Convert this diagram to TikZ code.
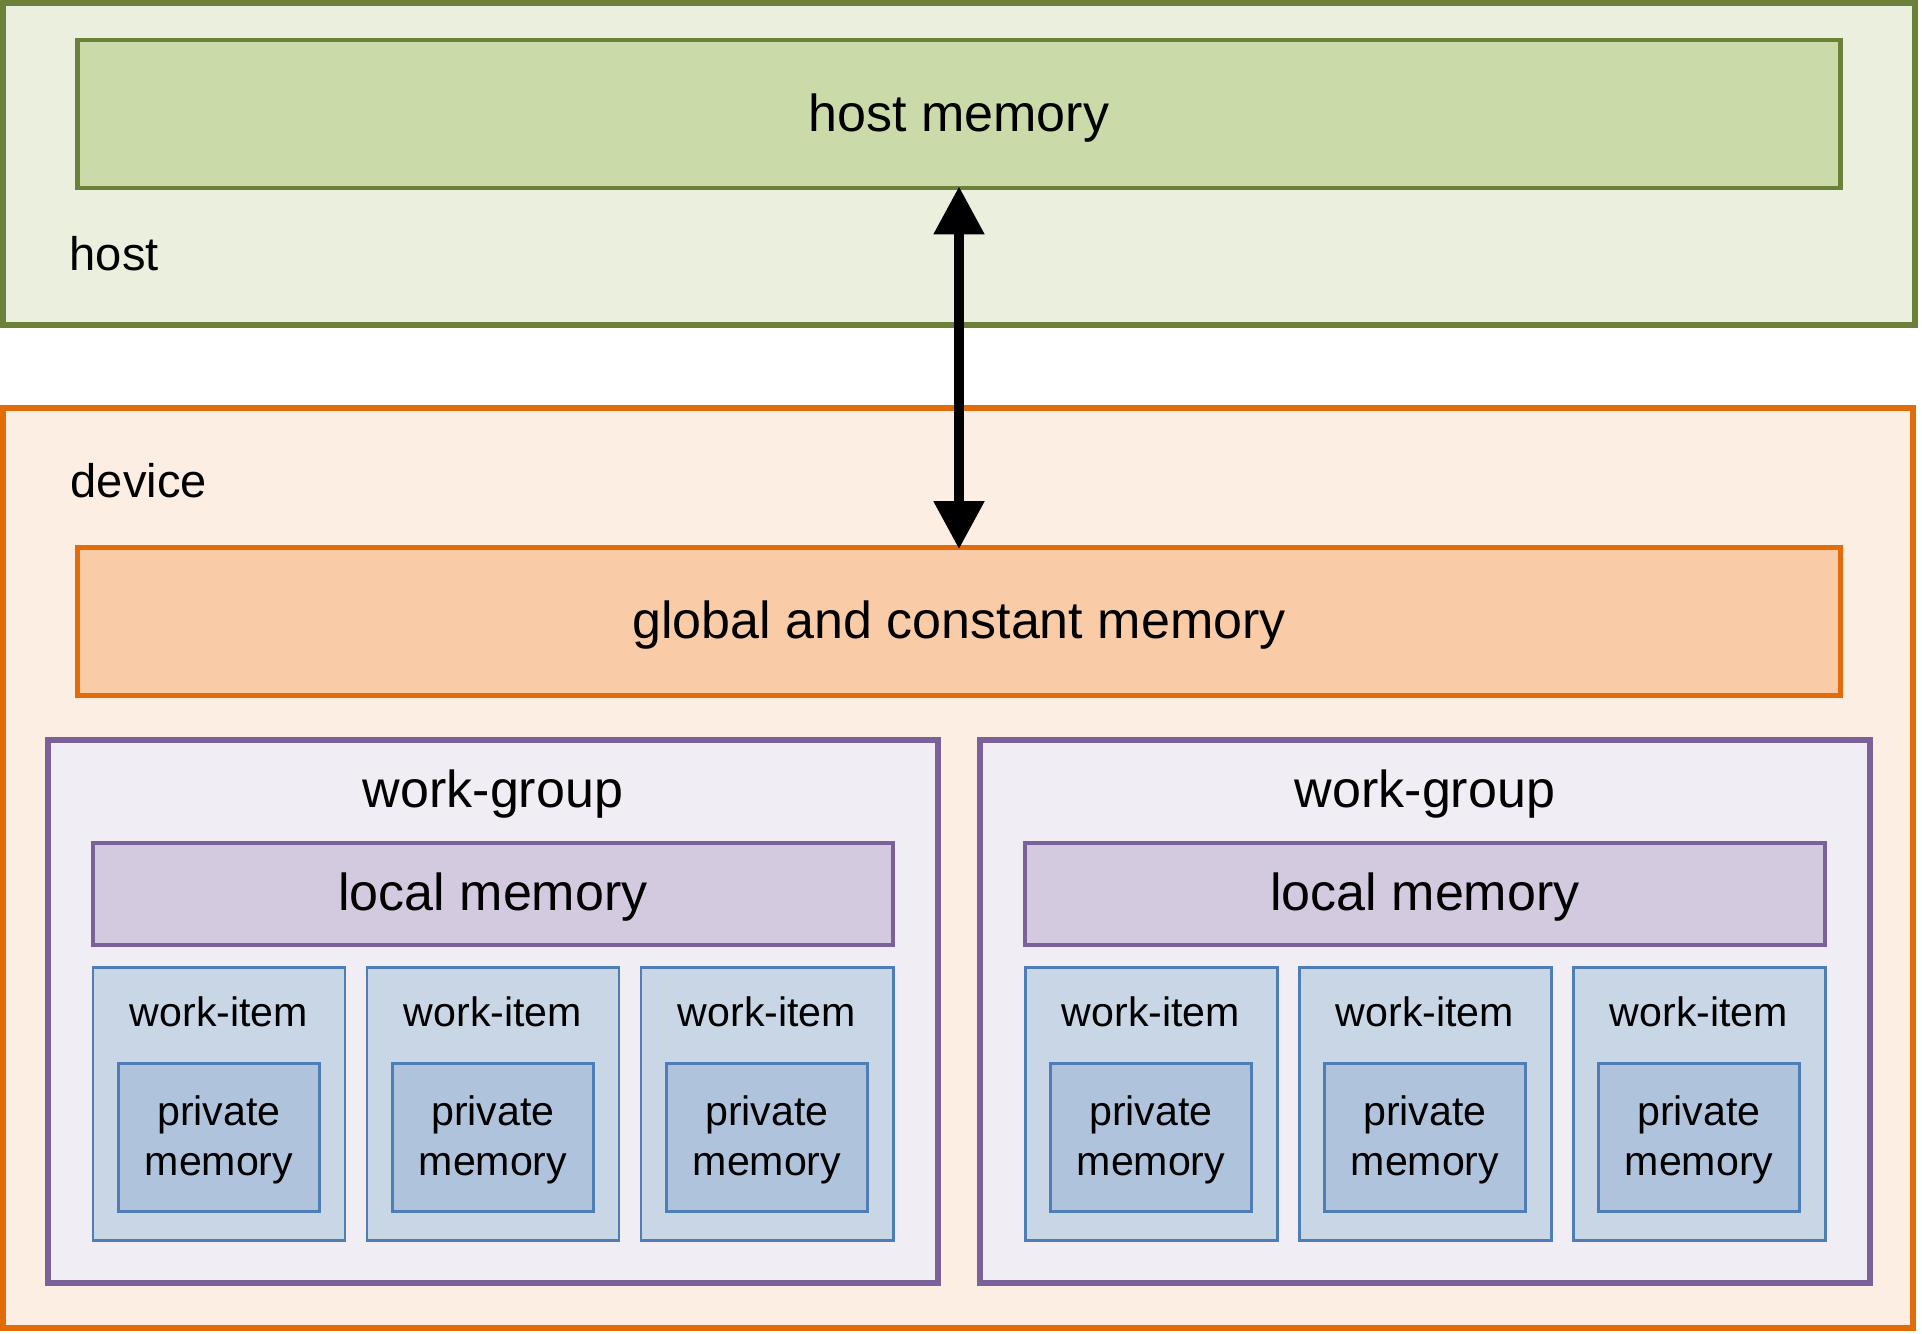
\documentclass[tikz,border=0pt]{standalone}
\usepackage{fontspec}
\setmainfont{Liberation Sans}
\usetikzlibrary{arrows.meta}

\definecolor{hostfill}{HTML}{EBF0DE}
\definecolor{hostdraw}{HTML}{6B8139}
\definecolor{hmemfill}{HTML}{CBDAA9}
\definecolor{devfill}{HTML}{FDEEE3}
\definecolor{devdraw}{HTML}{E36C0A}
\definecolor{gmemfill}{HTML}{F9CBA7}
\definecolor{wgfill}{HTML}{F0EEF4}
\definecolor{wgdraw}{HTML}{7A6199}
\definecolor{lmemfill}{HTML}{D3CAE0}
\definecolor{wifill}{HTML}{C9D6E6}
\definecolor{widraw}{HTML}{4F7EB6}
\definecolor{pmemfill}{HTML}{B0C3DC}

\newcommand{\memfont}{\fontsize{14.8}{18}\selectfont}
\newcommand{\tagfont}{\fontsize{13.4}{16}\selectfont}
\newcommand{\itemfont}{\fontsize{11.7}{14.2}\selectfont}

\tikzset{
  box/.style   ={draw,align=center,inner sep=0pt,font=\memfont},
  area/.style  ={box,line width=1.7pt},
  hostarea/.style={area,fill=hostfill,draw=hostdraw},
  devarea/.style ={area,fill=devfill,draw=devdraw},
  bigmem/.style={box,line width=1.4pt,minimum width=17.63cm,minimum height=1.48cm,
                 text depth=0.1em},
  group/.style ={box,fill=wgfill,draw=wgdraw,line width=1.5pt,
                 minimum width=8.90cm,minimum height=5.43cm},
  local/.style ={box,fill=lmemfill,draw=wgdraw,line width=1pt,text depth=0.12em,
                 minimum width=8.00cm,minimum height=1.02cm},
  item/.style  ={box,fill=wifill,draw=widraw,line width=0.85pt,
                 minimum width=2.52cm,minimum height=2.73cm},
  priv/.style  ={box,fill=pmemfill,draw=widraw,line width=0.85pt,font=\itemfont,
                 text depth=0.1em,minimum width=2.01cm,minimum height=1.48cm},
  tag/.style   ={inner sep=0pt,font=\tagfont},
  xfer/.style  ={{Triangle[length=13.7pt,width=13.7pt]}-{Triangle[length=13.7pt,width=13.7pt]},
                 line width=3.1pt,shorten <=-1.2pt,shorten >=-1.2pt},
}

\begin{document}
\begin{tikzpicture}
  \fill[white] (0,0) rectangle (19.22,-13.33);
  \useasboundingbox (0,0) rectangle (19.22,-13.33);

  % host side
  \node[hostarea,minimum width=19.12cm,minimum height=3.22cm] (host) at (9.59,-1.64) {};
  \node[bigmem,fill=hmemfill,draw=hostdraw] (hostmem) at (9.59,-1.14) {host memory};
  \node[tag,anchor=base west] (hostlbl) at (0.69,-2.70) {host};

  % device side
  \node[devarea,minimum width=19.10cm,minimum height=9.20cm] (device) at (9.58,-8.68) {};
  \node[tag,anchor=base west] (devlbl) at (0.70,-4.97) {device};
  \node[bigmem,fill=gmemfill,draw=devdraw] (global) at (9.59,-6.215)
    {global and constant memory};

  \draw[xfer] (hostmem.south) -- (global.north);

  % work-groups with their work-items
  \foreach \g/\cx in {1/4.93,2/14.25} {
    \node[group] (wg\g) at (\cx,-10.115) {};
    \node[inner sep=0pt,font=\memfont,anchor=base] (wg\g lbl) at (\cx,-8.07) {work-group};
    \node[local] (lm\g) at (\cx,-8.94) {local memory};
    \foreach \i/\dx in {1/-2.74,2/0,3/2.74} {
      \node[item] (wi\g\i) at ([xshift=\dx cm,yshift=-0.92cm]wg\g.center) {};
      \node[inner sep=0pt,font=\itemfont,anchor=base] (wi\g\i lbl)
        at ([yshift=0.775cm]wi\g\i.center) {work-item};
      \node[priv] (pm\g\i) at ([yshift=-0.335cm]wi\g\i.center) {private\\memory};
    }
  }
\end{tikzpicture}
\end{document}
